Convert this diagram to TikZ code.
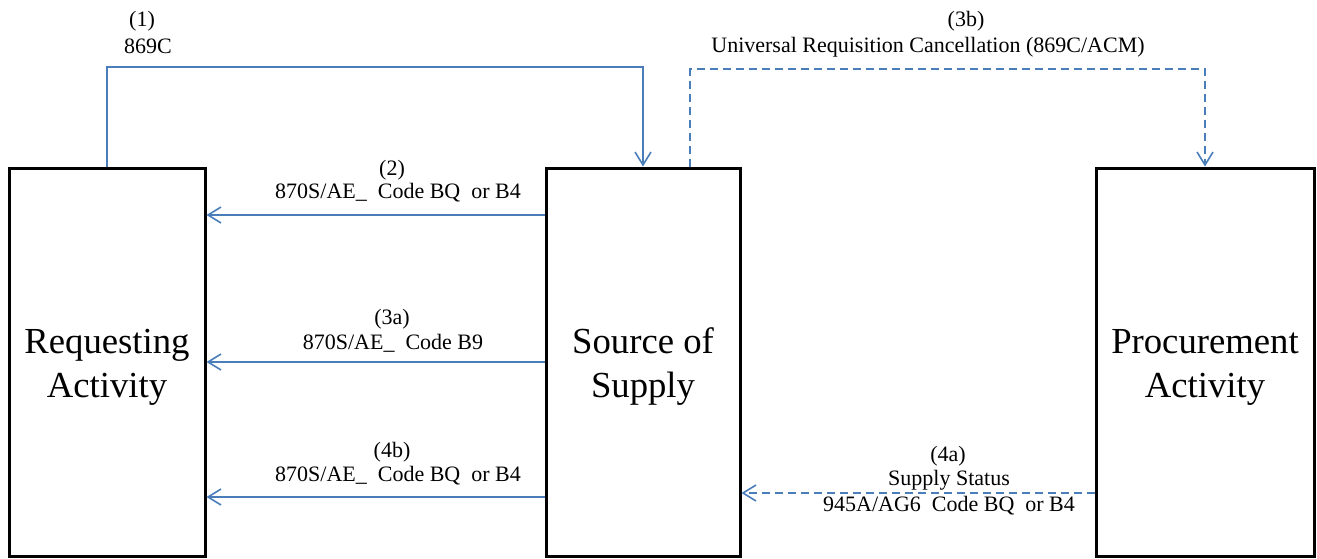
\documentclass[tikz,border=0pt]{standalone}
\usepackage{fontspec}
\setmainfont{Liberation Serif}
\usetikzlibrary{arrows.meta}
\definecolor{lineblue}{RGB}{74,126,187}
\begin{document}
\begin{tikzpicture}[x=1pt,y=-1pt,
  box/.style={draw=black,line width=3pt,rectangle,inner sep=0pt,minimum height=388.5pt},
  boxtext/.style={inner sep=0pt,align=center,font=\rmfamily\fontsize{36.7}{44}\selectfont},
  flow/.style={draw=lineblue,line width=1.6pt,-{Straight Barb[length=13pt,width=16pt]}},
  dflow/.style={flow,dash pattern=on 8pt off 5pt},
  lbl/.style={inner sep=0pt,font=\rmfamily\fontsize{22}{24}\selectfont}]
\useasboundingbox (0,0) rectangle (1317,558);
% boxes
\node[box,minimum width=196pt] (req) at (107,362.25) {};
\node[box,minimum width=194pt] (sos) at (643,362.25) {};
\node[box,minimum width=218pt] (proc) at (1205,362.25) {};
\node[boxtext] (reqt) at (107,367) {Requesting\\Activity};
\node[boxtext] (sost) at (643,367) {Source of\\Supply};
\node[boxtext] (proct) at (1205,367) {Procurement\\Activity};
% helper coordinates
\coordinate (c1) at (643,67);
\coordinate (c3a) at (690,69);
\coordinate (c3b) at (1205,69);
\coordinate (y2) at (0,215);
\coordinate (y3) at (0,362);
\coordinate (y4b) at (0,497);
\coordinate (y4a) at (0,493);
% connectors
\draw[flow] (req.north) |- (c1) -- (sos.north);
\draw[dflow] (sos.north -| c3a) -- (c3a) -- (c3b) -- (proc.north);
\draw[flow] (sos.west |- y2) -- (req.east |- y2);
\draw[flow] (sos.west |- y3) -- (req.east |- y3);
\draw[flow] (sos.west |- y4b) -- (req.east |- y4b);
\draw[dflow] (proc.west |- y4a) -- (sos.east |- y4a);
% labels
\node[lbl] (l1a) at (142,21) {(1)};
\node[lbl] (l1b) at (148,46) {869C};
\node[lbl] (l2a) at (392,170) {(2)};
\node[lbl] (l2b) at (398,193) {870S/AE\_\ \ Code BQ\ \ or B4};
\node[lbl] (l3a) at (392,319) {(3a)};
\node[lbl] (l3b) at (393,343) {870S/AE\_\ \ Code B9};
\node[lbl] (l4a) at (392,452) {(4b)};
\node[lbl] (l4b) at (398,476) {870S/AE\_\ \ Code BQ\ \ or B4};
\node[lbl] (l5a) at (966,21) {(3b)};
\node[lbl] (l5b) at (928,47) {Universal Requisition Cancellation (869C/ACM)};
\node[lbl] (l6a) at (948,456) {(4a)};
\node[lbl] (l6b) at (949,480) {Supply Status};
\node[lbl] (l6c) at (949,506) {945A/AG6\ \ Code BQ\ \ or B4};
\end{tikzpicture}
\end{document}
